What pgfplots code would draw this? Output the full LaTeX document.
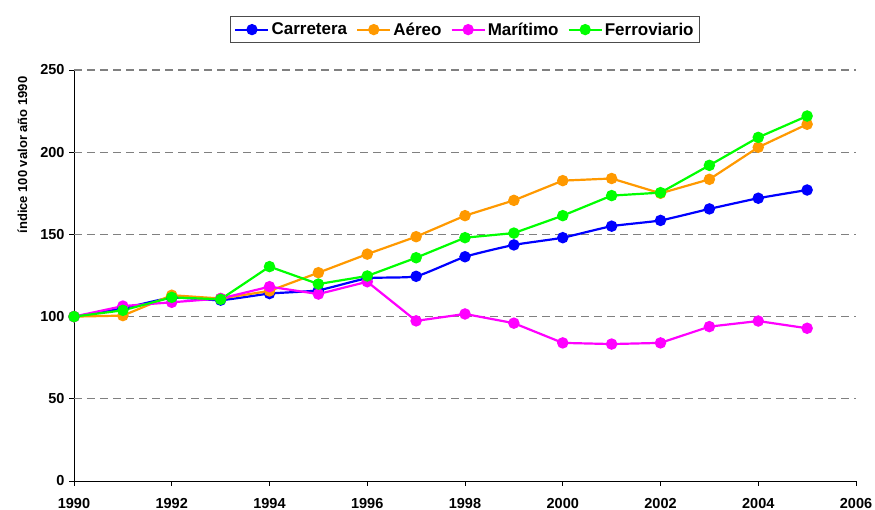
\documentclass[border=0pt]{standalone}
\usepackage{pgfplots}
\pgfplotsset{compat=1.18}
\usepackage{fontspec}
\setmainfont{Liberation Sans}
\definecolor{cBlue}{RGB}{0,0,255}
\definecolor{cOrange}{RGB}{255,153,0}
\definecolor{cMag}{RGB}{255,0,255}
\definecolor{cGreen}{RGB}{0,255,0}
\begin{document}
\begin{tikzpicture}[x=1pt,y=1pt]
\path[use as bounding box] (-74,-29) rectangle (801,481);
\begin{axis}[
  at={(0,0)}, anchor=south west,
  scale only axis,
  width=782pt, height=411pt,
  xmin=1990, xmax=2006, ymin=0, ymax=250,
  xtick={1990,1992,...,2006}, ytick={0,50,...,250},
  axis x line*=bottom, axis y line*=left,
  axis line style={black, line width=0.8pt},
  tick style={black, line width=0.8pt},
  tick align=outside, major tick length=5pt,
  extra y ticks={50,100,150,200,250}, extra y tick labels={},
  extra y tick style={grid=major, major tick length=0pt},
  grid style={gray, line width=1.1pt, dash pattern=on 8pt off 5pt},
  /pgf/number format/assume math mode=true,
  /pgf/number format/1000 sep={},
  ticklabel style={font=\fontsize{14.5}{16}\selectfont\bfseries},
  xticklabel style={yshift=-9pt},
  yticklabel style={xshift=-1pt},
  ylabel={índice 100 valor año 1990},
  ylabel style={font=\fontsize{13}{15}\selectfont\bfseries, at={(axis description cs:-0.066,0.793)}, anchor=center},
  legend columns=4,
  legend style={at={(0.5,1)}, anchor=south, yshift=27pt, draw=black!70, line width=0.8pt,
    font=\fontsize{17}{19}\selectfont\bfseries, inner xsep=4pt, inner ysep=4pt,
    /tikz/every even column/.append style={column sep=7pt}},
  legend image code/.code={\draw[#1, line width=2.2pt] (0pt,0pt) -- (33pt,0pt); \fill[#1] (16.5pt,0pt) circle (4.5pt);},
  every axis plot/.append style={line width=2.2pt, mark=*, mark size=4.6pt, mark options={solid}},
  clip=false,
]
\addplot[cBlue, smooth, tension=0.3] coordinates {
(1990,100)(1991,105)(1992,111.5)(1993,110)(1994,114)(1995,116)(1996,123.3)(1997,124.5)(1998,136.4)(1999,143.6)(2000,148)(2001,155)(2002,158.5)(2003,165.5)(2004,172)(2005,177)};
\addlegendentry{Carretera}
\addplot[cOrange] coordinates {
(1990,100)(1991,100.6)(1992,113)(1993,111)(1994,115.6)(1995,126.7)(1996,138)(1997,148.6)(1998,161.4)(1999,170.7)(2000,182.7)(2001,184)(2002,175)(2003,183.5)(2004,203)(2005,217)};
\addlegendentry{Aéreo}
\addplot[cMag] coordinates {
(1990,100)(1991,106.4)(1992,108.7)(1993,111)(1994,118.2)(1995,113.7)(1996,121.2)(1997,97.4)(1998,101.6)(1999,96)(2000,84)(2001,83.3)(2002,84)(2003,93.9)(2004,97.3)(2005,92.9)};
\addlegendentry{Marítimo}
\addplot[cGreen] coordinates {
(1990,100)(1991,103.8)(1992,111.7)(1993,110.5)(1994,130.4)(1995,119.8)(1996,124.7)(1997,135.8)(1998,148)(1999,150.8)(2000,161.4)(2001,173.6)(2002,175.4)(2003,192)(2004,209)(2005,222)};
\addlegendentry{Ferroviario}
\end{axis}
\end{tikzpicture}
\end{document}
